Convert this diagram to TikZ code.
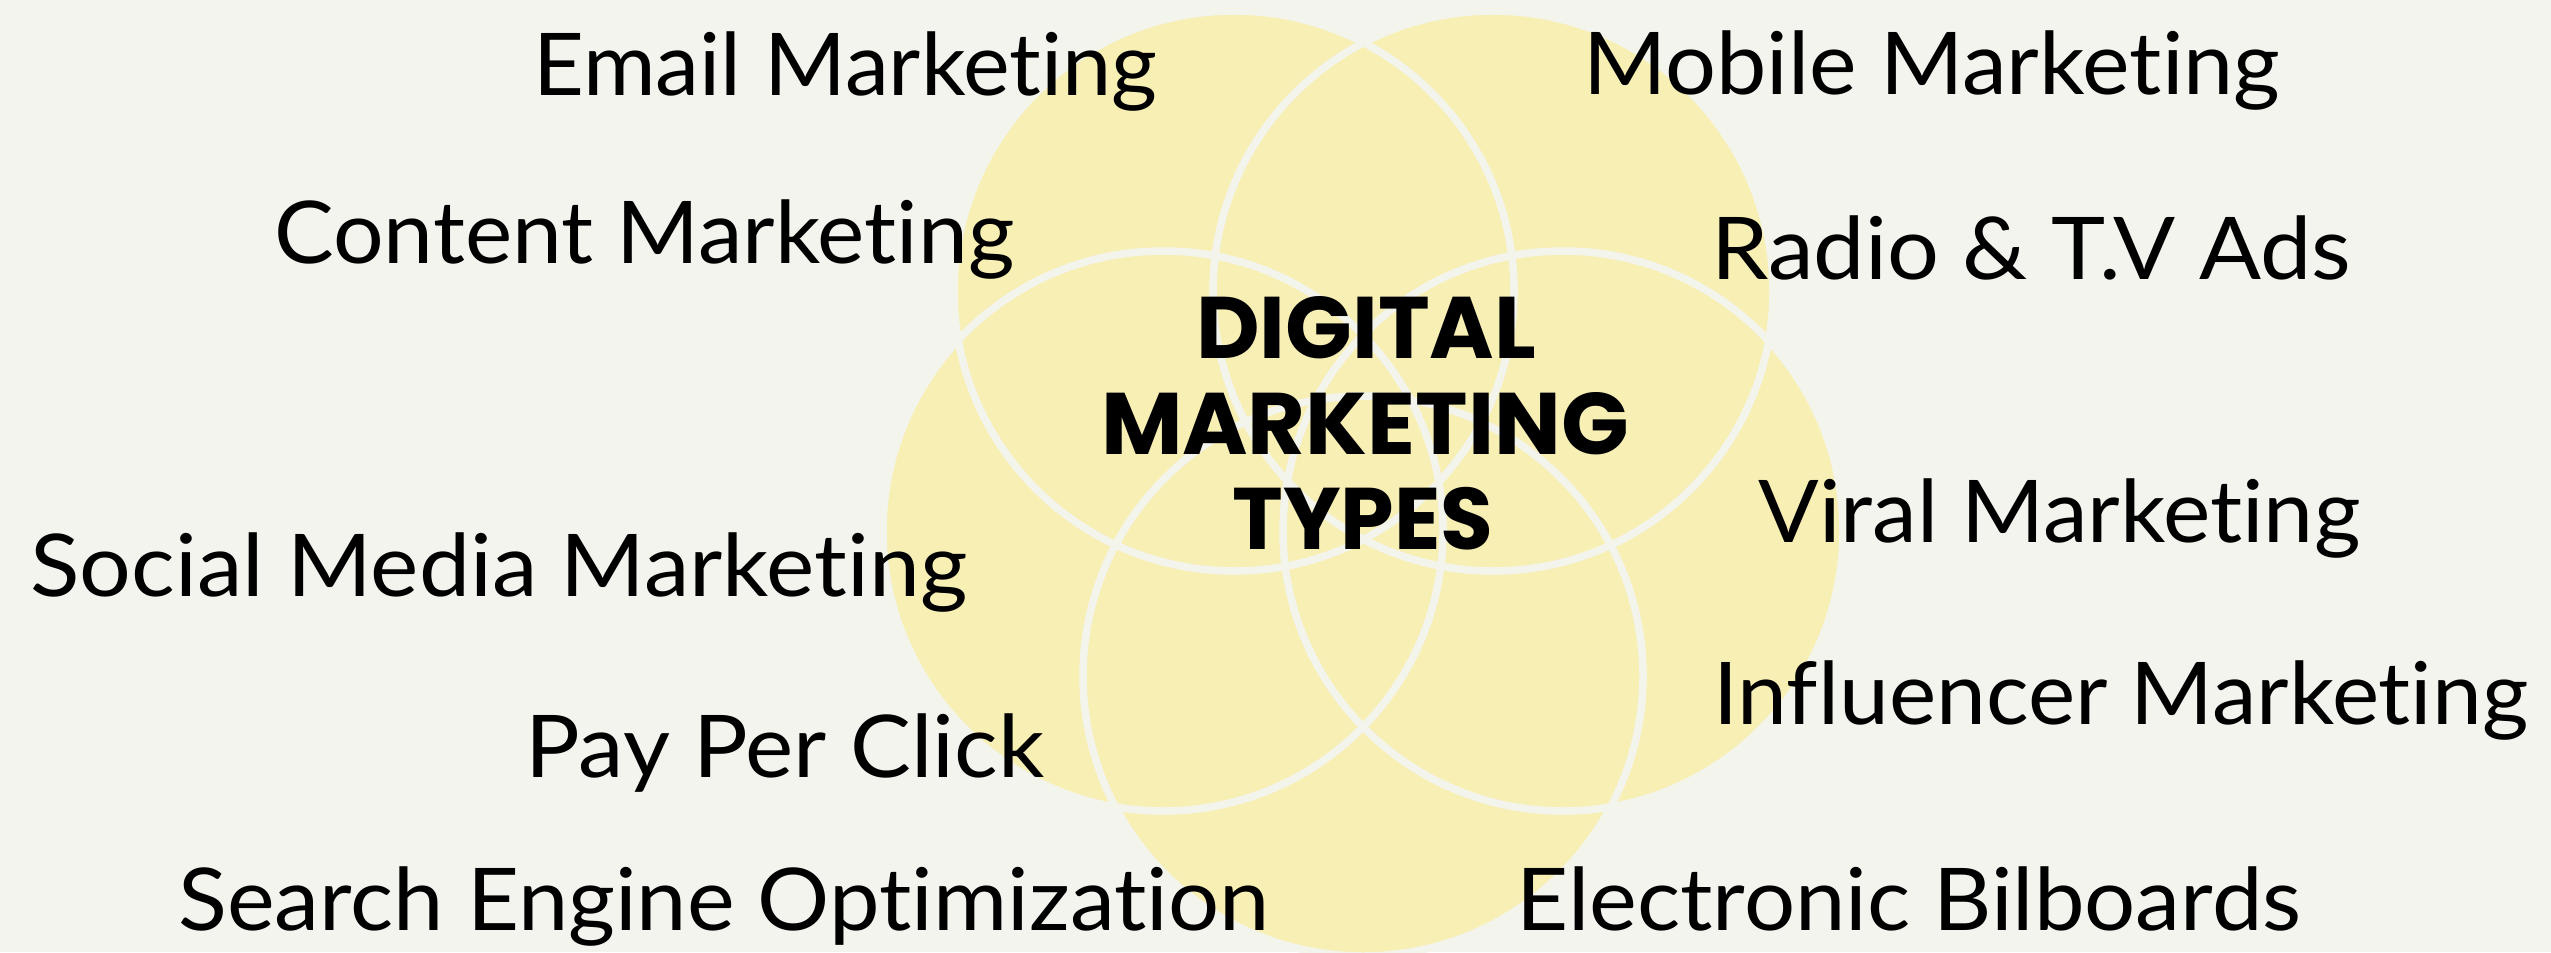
\documentclass[tikz,border=0pt]{standalone}
\usepackage{fontspec}
\usepackage{graphicx}
\setmainfont{Lato}[Ligatures=NoCommon]
\newfontfamily\titlefont{Poppins}
\definecolor{bgcol}{HTML}{F3F4EE}
\definecolor{petalyellow}{HTML}{F8EFB5}
\definecolor{rimwhite}{HTML}{F3F4EC}
\newcommand\fitw[2]{\resizebox{#1}{\height}{#2}}
\begin{document}
\begin{tikzpicture}[x=0.5pt,y=-0.5pt,
  petalfill/.style={fill=petalyellow},
  petalrim/.style={draw=rimwhite,line width=3.75pt},
  itemtext/.style={anchor=base west,inner sep=0pt,text=black,font=\fontsize{43.3}{52}\selectfont},
  titleline/.style={anchor=base,inner sep=0pt,text=black,font=\titlefont\bfseries\fontsize{43.7}{52}\selectfont}]
\fill[bgcol] (0,0) rectangle (2551,952);
\useasboundingbox (0,0) rectangle (2551,952);
\coordinate (tl) at (1234,291);
\coordinate (tr) at (1493,291);
\coordinate (ml) at (1163,531);
\coordinate (mr) at (1563,531);
\coordinate (bt) at (1363,676);
\foreach \c in {tl,tr,ml,mr,bt} \fill[petalfill] (\c) circle[radius=140pt];
\foreach \c in {tl,tr,ml,mr,bt} \draw[petalrim] (\c) circle[radius=140pt];
\node[titleline] (t1) at (1366,358) {\fitw{170pt}{DIGITAL}};
\node[titleline] (t2) at (1365,454) {\fitw{264pt}{MARKETING}};
\node[titleline] (t3) at (1363,549) {\fitw{130.5pt}{TYPES}};
\node[itemtext] (email) at (533,96) {\fitw{312pt}{Email Marketing}};
\node[itemtext] (content) at (274,263) {\fitw{370pt}{Content Marketing}};
\node[itemtext] (social) at (30,596) {\fitw{468.5pt}{Social Media Marketing}};
\node[itemtext] (ppc) at (525,777) {\fitw{259.5pt}{Pay Per Click}};
\node[itemtext] (seo) at (178,930) {\fitw{545.5pt}{Search Engine Optimization}};
\node[itemtext] (mobile) at (1583,95) {\fitw{348.5pt}{Mobile Marketing}};
\node[itemtext] (radio) at (1711,279) {\fitw{320pt}{Radio \& T.V Ads}};
\node[itemtext] (viral) at (1758,542) {\fitw{301pt}{Viral Marketing}};
\node[itemtext] (influencer) at (1713,724) {\fitw{407.5pt}{Influencer Marketing}};
\node[itemtext] (billboards) at (1516,930) {\fitw{392.5pt}{Electronic Bilboards}};
\end{tikzpicture}
\end{document}
